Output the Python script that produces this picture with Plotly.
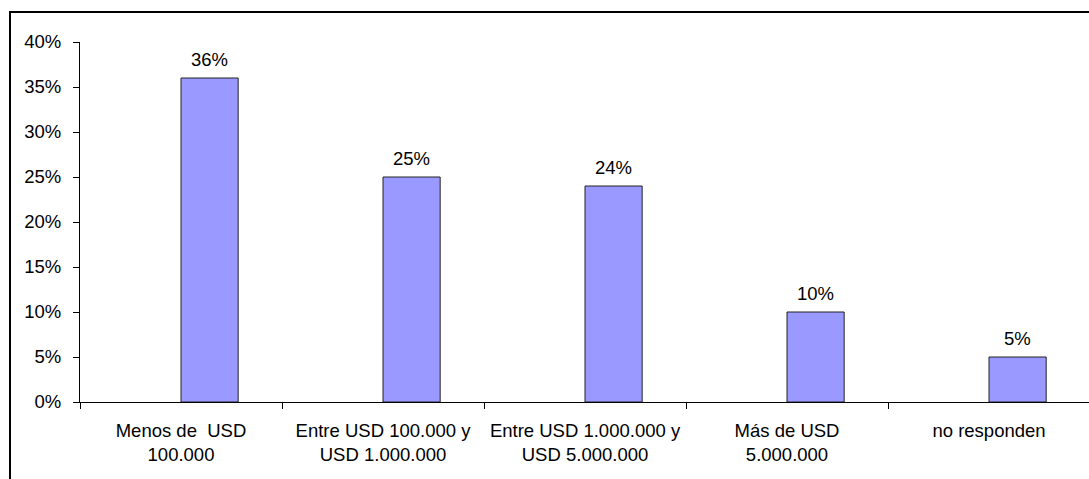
import plotly.graph_objects as go

categories = ["Menos de  USD<br>100.000", "Entre USD 100.000 y<br>USD 1.000.000",
              "Entre USD 1.000.000 y<br>USD 5.000.000", "Más de USD<br>5.000.000",
              "no responden"]
values = [0.36, 0.25, 0.24, 0.10, 0.05]
value_labels = ["36%", "25%", "24%", "10%", "5%"]
y_ticks = [0, 0.05, 0.10, 0.15, 0.20, 0.25, 0.30, 0.35, 0.40]
y_tick_labels = ["0%", "5%", "10%", "15%", "20%", "25%", "30%", "35%", "40%"]

FONT = "Liberation Sans, Arial, sans-serif"
FS = 18.5
BAR_W = 0.283

fig = go.Figure()
fig.add_trace(go.Bar(
    x=categories, y=values,
    width=BAR_W, offset=0,
    marker=dict(color="#9999FF", line=dict(color="#222222", width=1)),
    hoverinfo="skip",
))

for c, v, t in zip(categories, values, value_labels):
    fig.add_annotation(x=c, y=v, text=t, showarrow=False, xshift=28.5,
                       yanchor="bottom", yshift=6,
                       font=dict(family=FONT, size=FS, color="black"))

fig.add_shape(type="rect", xref="paper", yref="paper",
              x0=-80/1009 + 10/1009, x1=1.05, y0=-0.3, y1=1 + 30/360,
              line=dict(color="black", width=2), layer="above")

fig.update_layout(
    width=1089, height=479,
    margin=dict(l=80, r=0, t=42, b=77, pad=0),
    paper_bgcolor="white", plot_bgcolor="white",
    showlegend=False,
    font=dict(family=FONT, size=FS, color="black"),
    xaxis=dict(
        type="category", range=[-0.5, 4.495],
        showline=True, linecolor="black", linewidth=1,
        ticks="outside", ticklen=6, tickcolor="black", tickson="boundaries",
        ticklabelstandoff=12,
        showgrid=False, zeroline=False, fixedrange=True,
        tickfont=dict(family=FONT, size=FS, color="black"),
    ),
    yaxis=dict(
        range=[0, 0.40], tickvals=y_ticks, ticktext=y_tick_labels,
        showline=True, linecolor="black", linewidth=1,
        ticks="outside", ticklen=6, tickcolor="black",
        ticklabelstandoff=8,
        showgrid=False, zeroline=False, fixedrange=True,
        tickfont=dict(family=FONT, size=FS, color="black"),
    ),
)

fig.write_html("out.html")
